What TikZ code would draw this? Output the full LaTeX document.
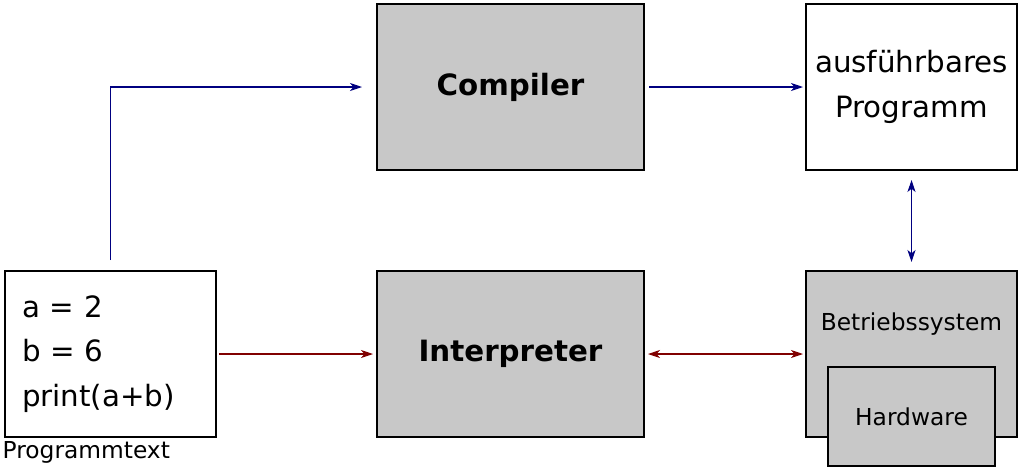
\documentclass[tikz,border=0pt]{standalone}
\usepackage{fontspec}
\setmainfont{DejaVu Sans}
\usetikzlibrary{arrows.meta,positioning,calc}
\definecolor{boxgray}{RGB}{200,200,200}
\definecolor{navyline}{RGB}{0,0,128}
\definecolor{redline}{RGB}{128,0,0}

\begin{document}
\begin{tikzpicture}[
    box/.style={draw, rectangle, line width=0.8pt, minimum height=124.5pt, inner sep=0pt, outer sep=0pt},
    wide/.style={box, minimum width=200.25pt, fill=boxgray, align=center, font=\fontsize{22}{26}\selectfont\bfseries},
    narrow/.style={box, minimum width=158.25pt},
    big/.style={font=\fontsize{22}{33.2}\selectfont},
    small/.style={font=\fontsize{17.5}{21}\selectfont},
    flow/.style={line width=0.8pt, -{Stealth[length=9pt,width=6pt,inset=2.5pt]}},
    both/.style={flow, {Stealth[length=9pt,width=6pt,inset=2.5pt]}-{Stealth[length=9pt,width=6pt,inset=2.5pt]}}
  ]
    \useasboundingbox (0,0) rectangle (768.75pt,-354pt);
    \node[narrow, big, align=left, text width=132.75pt] (code) at (82.875pt,-265.5pt) {a = 2\\b = 6\\print(a+b)};
    \node[wide, right=120.75pt of code] (interp) {Interpreter};
    \node[wide, above=75.75pt of interp] (comp) {Compiler};
    \node[narrow, fill=boxgray, right=121.5pt of interp] (os) {};
    \node[narrow, big, align=center, above=75.75pt of os] (exe) {ausführbares\\Programm};
    \node[small] (ostext) at ($(os.north)+(0,-39.75pt)$) {Betriebssystem};
    \node[box, fill=boxgray, small, minimum width=125.25pt, minimum height=74.25pt, below=-52.5pt of os.south] (hw) {Hardware};
    \node[small, anchor=west] (prog) at ($(code.south west)+(-5.25pt,-11.25pt)$) {Programmtext};
    % Verbindungen
    \draw[flow, navyline, shorten <=8.25pt, shorten >=11.25pt] (code.north) |- (comp.west);
    \draw[flow, navyline, shorten <=3.75pt, shorten >=2.25pt] (comp) -- (exe);
    \draw[both, navyline, shorten <=7.5pt, shorten >=6.75pt] (exe) -- (os);
    \draw[flow, redline, shorten <=2.25pt, shorten >=3pt] (code) -- (interp);
    \draw[both, redline, shorten <=3pt, shorten >=2.25pt] (interp) -- (os);
  \end{tikzpicture}
\end{document}
